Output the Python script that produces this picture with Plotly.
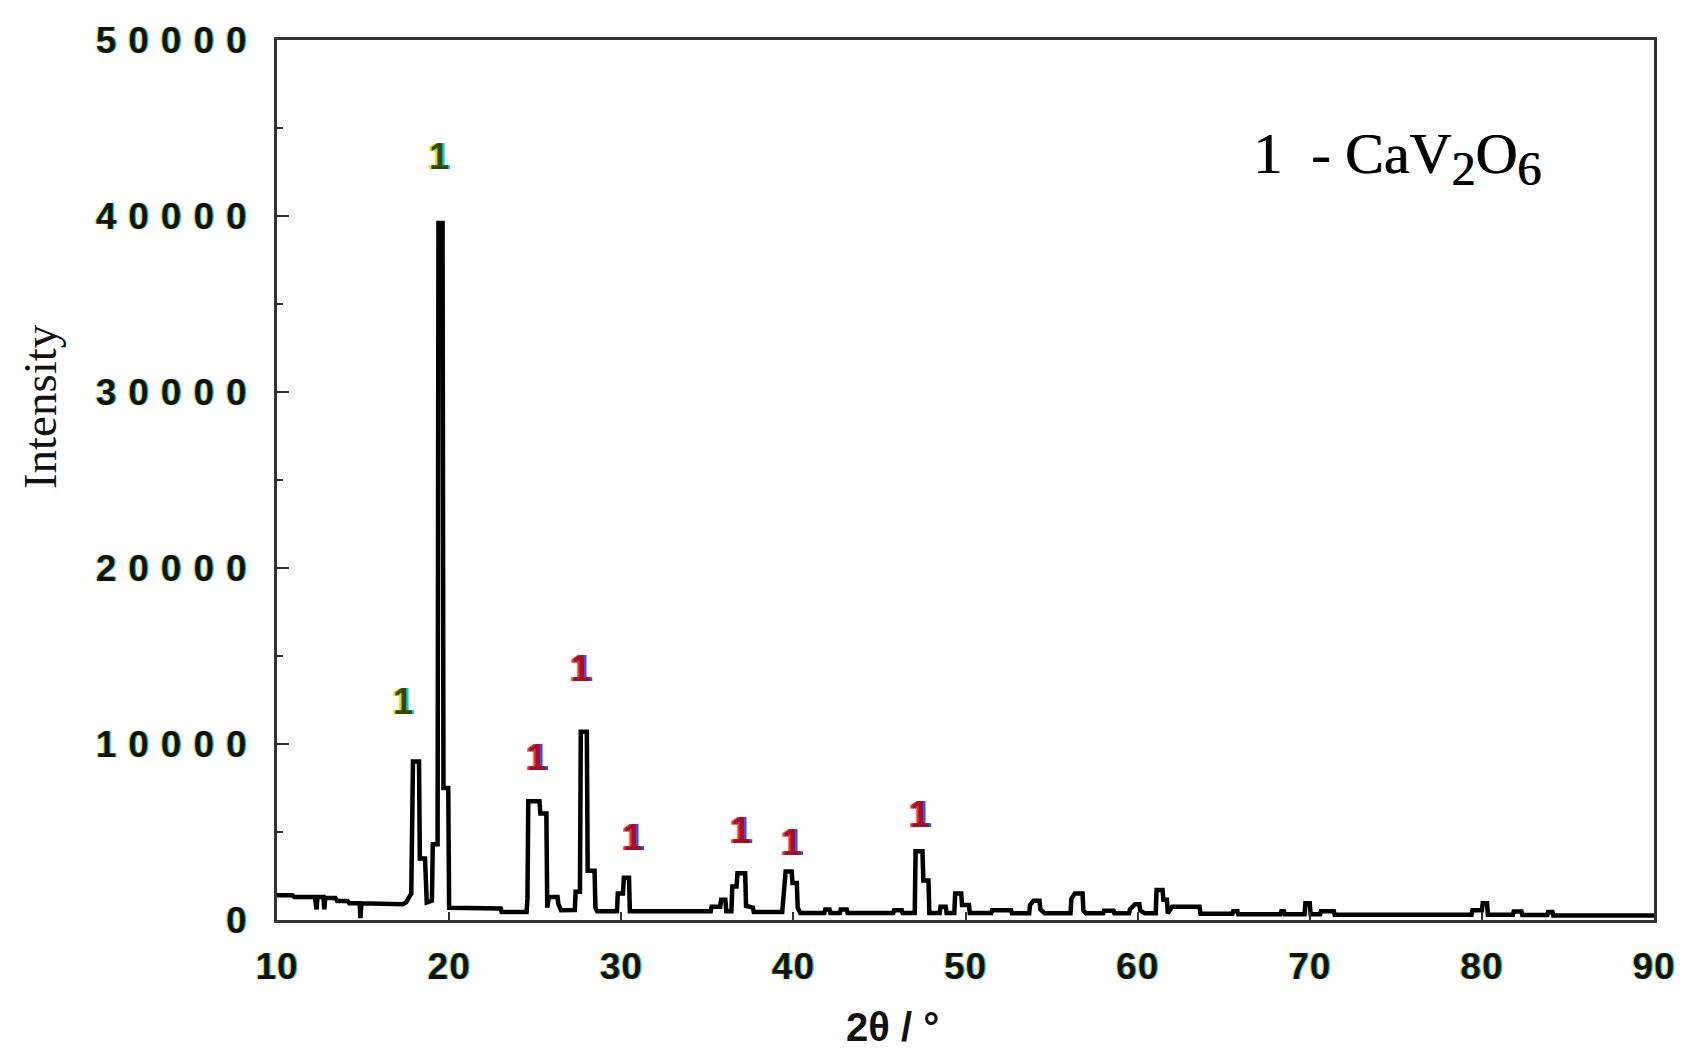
import plotly.graph_objects as go

# ---- data ----
two_theta = [
    10.0, 10.9, 11.0, 12.2, 12.3, 12.35, 12.7, 12.75, 12.8, 13.4, 13.5, 14.1, 14.2, 14.8, 14.85, 14.9,
    17.3, 17.5, 17.8, 17.9, 18.25, 18.3, 18.6, 18.7, 19.0, 19.05, 19.33, 19.38, 19.62, 19.67, 19.95, 20.0,
    23.0, 23.05, 24.5, 24.55, 24.6, 25.25, 25.3, 25.65, 25.7, 25.8, 26.3, 26.35, 26.5,
    27.3, 27.35, 27.6, 27.65, 28.0, 28.05, 28.45, 28.5, 28.6,
    29.75, 29.8, 30.1, 30.15, 30.45, 30.5,
    35.2, 35.25, 35.75, 35.8, 36.05, 36.1, 36.4, 36.45, 36.7, 36.75, 37.2, 37.25, 37.65, 37.7,
    39.35, 39.4, 39.55, 39.9, 39.95, 40.2, 40.25, 40.4,
    41.8, 41.85, 42.1, 42.15, 42.7, 42.75, 43.1, 43.15, 45.8, 45.85, 46.3, 46.35,
    47.05, 47.1, 47.5, 47.55, 47.85, 47.9, 48.5, 48.55, 48.85, 48.9,
    49.35, 49.4, 49.75, 49.8, 50.2, 50.25, 51.5, 51.55, 52.65, 52.7,
    53.7, 53.75, 53.95, 54.3, 54.35, 54.6, 56.1, 56.15, 56.35, 56.8, 56.85, 57.0,
    58.0, 58.05, 58.6, 58.65, 59.5, 59.55, 59.85, 60.1, 60.15, 60.4,
    61.05, 61.1, 61.45, 61.5, 61.7, 61.75, 62.0, 63.6, 63.65,
    65.5, 65.55, 65.8, 65.85, 68.3, 68.35, 68.5, 68.55,
    69.7, 69.75, 70.0, 70.05, 70.6, 70.65, 71.4, 71.45,
    79.4, 79.45, 80.0, 80.05, 80.3, 80.35, 81.8, 81.85, 82.3, 82.35,
    83.8, 83.85, 84.1, 84.15, 90.0,
]
intensity = [
    1400, 1400, 1300, 1300, 600, 1300, 1300, 600, 1250, 1250, 1080, 1080, 950, 950, 100, 950,
    900, 1000, 1500, 9000, 9000, 3500, 3500, 1000, 1100, 4300, 4300, 39600, 39600, 7500, 7500, 700,
    650, 450, 450, 1200, 6750, 6750, 6050, 6050, 700, 1300, 1300, 900, 550,
    560, 1600, 1600, 10700, 10700, 2800, 2800, 700, 500,
    500, 1500, 1500, 2400, 2400, 500,
    500, 750, 750, 1150, 1150, 500, 500, 1900, 1900, 2650, 2650, 800, 700, 450,
    450, 1200, 2750, 2750, 2100, 2100, 700, 400,
    400, 600, 600, 400, 400, 600, 600, 400, 400, 550, 550, 400,
    400, 3900, 3900, 2250, 2250, 400, 400, 750, 750, 400,
    400, 1500, 1500, 850, 850, 400, 400, 550, 550, 380,
    380, 850, 1100, 1100, 600, 380, 380, 1200, 1500, 1500, 550, 380,
    380, 520, 520, 380, 380, 600, 900, 900, 550, 380,
    380, 1700, 1700, 1150, 1150, 380, 750, 750, 350,
    350, 500, 500, 320, 320, 500, 500, 320,
    320, 950, 950, 320, 320, 500, 500, 300,
    300, 550, 550, 950, 950, 300, 300, 480, 480, 280,
    280, 450, 450, 260, 250,
]

# peak markers "1" (CaV2O6), anchored in data coordinates
peak_label_x = [17.3, 19.42, 25.1, 27.66, 30.7, 36.96, 39.9, 47.36]
peak_label_y = [12400, 43400, 9250, 14300, 4700, 5100, 4400, 6000]
peak_label_group = ["g", "g", "r", "r", "r", "r", "r", "r"]

x_ticks = [10, 20, 30, 40, 50, 60, 70, 80, 90]
y_ticks = [0, 10000, 20000, 30000, 40000, 50000]

fig = go.Figure()
fig.add_trace(go.Scatter(
    x=two_theta, y=intensity, mode="lines",
    line=dict(color="black", width=4.5), showlegend=False, hoverinfo="skip",
))

tick_font = dict(family="Liberation Sans", size=37, color="#111111", weight="bold",
                 shadow="-1px 0 0 #e6e600, 1px 0 0 #00d8e0")

fig.update_xaxes(
    range=[10, 90], tickmode="array", tickvals=x_ticks, ticktext=[str(v) for v in x_ticks],
    showline=True, linecolor="#333333", linewidth=3, mirror=True,
    ticks="inside", ticklen=8, tickwidth=2, tickcolor="#333333",
    showgrid=False, zeroline=False, tickfont=tick_font, ticklabelstandoff=12,
)
fig.update_yaxes(
    range=[0, 50000], tickmode="array", tickvals=y_ticks, ticktext=[str(v) for v in y_ticks],
    showline=True, linecolor="#333333", linewidth=3, mirror=True,
    ticks="inside", ticklen=12, tickwidth=2, tickcolor="#333333",
    minor=dict(dtick=5000, ticks="inside", ticklen=6, tickwidth=2, tickcolor="#333333"),
    showgrid=False, zeroline=False, tickfont=tick_font, ticklabelstandoff=8,
)

annotations = []
for px, py, grp in zip(peak_label_x, peak_label_y, peak_label_group):
    if grp == "g":
        f = dict(family="Liberation Sans", size=36, weight="bold", color="#2e4a00",
                 shadow="-2px 0 0 #e0e000, 2px 0 0 #00d0d8")
    else:
        f = dict(family="Liberation Sans", size=36, weight="bold", color="#a0102a",
                 shadow="-2px 0 0 #ff3030, 2px 0 0 #2050ff")
    annotations.append(dict(x=px, y=py, xref="x", yref="y", text="1", showarrow=False,
                            font=f, xanchor="center", yanchor="middle"))

annotations.append(dict(
    x=0.813, y=0.866, xref="paper", yref="paper", showarrow=False,
    text=("1 \u00a0- CaV<sub><span style='font-size:48px'>2</span></sub>"
          "O<sub><span style='font-size:48px'>6</span></sub>"),
    font=dict(family="Liberation Serif", size=58, color="black",
              shadow="1px 0 0 #222222"),
    xanchor="center", yanchor="middle",
))
annotations.append(dict(
    x=-0.172, y=0.583, xref="paper", yref="paper", showarrow=False,
    text="Intensity", textangle=-90,
    font=dict(family="Liberation Serif", size=47, color="#111111"),
    xanchor="center", yanchor="middle",
))
annotations.append(dict(
    x=0.447, y=-0.122, xref="paper", yref="paper", showarrow=False,
    text="2θ / °",
    font=dict(family="Liberation Sans", size=40, weight="bold", color="#111111"),
    xanchor="center", yanchor="middle",
))

# page body has an 8px margin: keep the plot area where the reference has it
fig.update_layout(
    width=1679, height=1043,
    margin=dict(l=269, r=33, t=32, b=131),
    paper_bgcolor="white", plot_bgcolor="white",
    annotations=annotations,
)

post = """
document.querySelectorAll('.ytick text').forEach(function(t){ t.style.letterSpacing = '12px'; });
document.querySelectorAll('.xtick text').forEach(function(t){ t.style.letterSpacing = '1px'; });
"""
fig.write_html("out.html", post_script=post)
